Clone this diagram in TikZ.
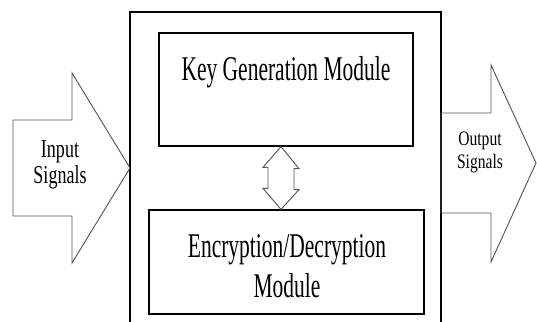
\documentclass[tikz,border=0pt]{standalone}
\usepackage{fontspec}
\setmainfont{Liberation Serif}
\newfontfamily\modfont[FakeStretch=0.62]{Liberation Serif}
\newfontfamily\insigfont[FakeStretch=0.70]{Liberation Serif}
\newfontfamily\outsigfont[FakeStretch=0.76]{Liberation Serif}
\usetikzlibrary{calc,math}
\definecolor{lgrey}{RGB}{85,85,85}

\begin{document}
\begin{tikzpicture}[x=0.75pt,y=-0.75pt]

\tikzmath{
\hw = 18; %half width of the double arrow head
\hl = 22; %head length
\sh = 5;  %step from head to shaft
}

\tikzset{
  modbox/.style={draw, line width=0.9pt, inner sep=0pt},
  fatarrow/.style={draw=lgrey, line width=0.7pt, line join=miter},
  modtext/.style={font=\modfont\fontsize{26}{29.3}\selectfont, align=center, inner sep=0pt},
}

\useasboundingbox (0,0) rectangle (537,322);

%outer frame, open at the bottom
\coordinate (fbl) at (130,322);
\coordinate (ftl) at (130,12);
\coordinate (ftr) at (441,12);
\coordinate (fbr) at (441,322);
\draw[line width=0.8pt] (fbl) -- (ftl) -- (ftr) -- (fbr);

%modules
\node[modbox, minimum width=190.5pt, minimum height=84.75pt] (keygen) at (286,89.5) {};
\node[modbox, minimum width=206.25pt, minimum height=78pt] (encdec) at (286.5,262) {};

%base of a two-line node is the baseline of its last line
\node[modtext, anchor=base] (keytext) at (286,80) {Key Generation Module};
\node[modtext, anchor=base] (enctext) at (287,297) {Encryption/Decryption\\Module};

%double arrow between the modules
\coordinate (ut) at ($(keygen.south)+(-5,0)$);
\coordinate (lt) at ($(encdec.north)+(-5.5,0)$);
\draw[fatarrow] (ut) -- ++(\hw,\hl) -- ++(-\sh,0) -- ++(0,21) -- ++(\sh,0) -- (lt)
  -- ++(-\hw,-\hl+1) -- ++(\sh,0) -- ++(0,-21) -- ++(-\sh,0) -- cycle;

%input signals
\coordinate (intip) at (ftl |- 0,168);
\draw[fatarrow] (intip) -- ++(-58,-95) -- ++(0,47) -- ++(-59,0) -- ++(0,96)
  -- ++(59,0) -- ++(0,47) -- cycle;
\node[font=\insigfont\fontsize{19.3}{19.5}\selectfont, align=center, inner sep=0pt, anchor=base]
  (intext) at (60,183) {Input\\Signals};

%output signals
\coordinate (outtip) at (536,163);
\draw[fatarrow] (outtip) -- ++(-45,-98) -- ++(0,48) -- ++(-50,0) -- ++(0,100)
  -- ++(50,0) -- ++(0,49) -- cycle;
\node[font=\outsigfont\fontsize{15.4}{17.25}\selectfont, align=center, inner sep=0pt, anchor=base]
  (outtext) at (480,168) {Output\\Signals};

\end{tikzpicture}
\end{document}
